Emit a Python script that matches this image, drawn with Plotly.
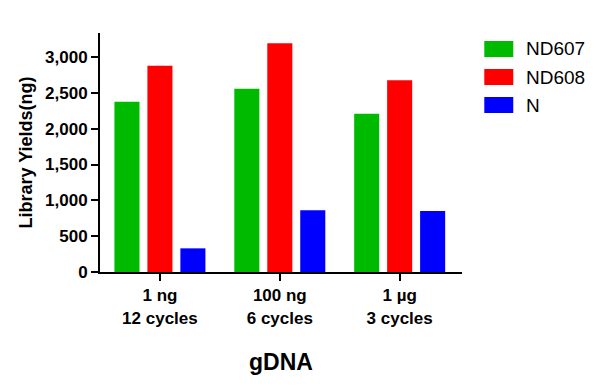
import plotly.graph_objects as go

categories = ["1 ng<br>12 cycles", "100 ng<br>6 cycles", "1 µg<br>3 cycles"]
series_names = ["ND607", "ND608", "N"]
nd607 = [2376, 2558, 2209]
nd608 = [2879, 3191, 2675]
n_vals = [330, 861, 851]
series_values = [nd607, nd608, n_vals]
colors = ["#00BA00", "#FF0000", "#0000FF"]
y_ticks = [0, 500, 1000, 1500, 2000, 2500, 3000]

# the page body adds an 8px offset; compensate in the margins
OFF = 8
W, H = 603, 390
L, T = 99.5 - OFF, 33 - OFF
R = W - (461.7 - OFF)
B = H - (272 - OFF)
PW, PH = W - L - R, H - T - B

fig = go.Figure()
for name, vals, col in zip(series_names, series_values, colors):
    fig.add_trace(go.Bar(x=categories, y=vals, name=name, marker=dict(color=col, line=dict(width=0)),
                         showlegend=False))

# custom legend (large swatches as in the reference)
shapes = []
annotations = []
for i, (name, col) in enumerate(zip(series_names, colors)):
    cy = 49 + 28 * i - OFF
    x0, x1 = 484 - OFF, 513 - OFF
    y0, y1 = cy - 8, cy + 8
    shapes.append(dict(type="rect", xref="paper", yref="paper",
                       x0=(x0 - L) / PW, x1=(x1 - L) / PW,
                       y0=(H - B - y1) / PH, y1=(H - B - y0) / PH,
                       fillcolor=col, line=dict(width=0)))
    annotations.append(dict(xref="paper", yref="paper", x=(524 - OFF - L) / PW, y=(H - B - cy) / PH,
                            text=name, showarrow=False, xanchor="left", yanchor="middle",
                            font=dict(family="Liberation Sans, Arial", size=19, color="black")))

fig.update_layout(
    width=W, height=H,
    margin=dict(l=L, r=R, t=T, b=B, pad=0, autoexpand=False),
    paper_bgcolor="white", plot_bgcolor="white",
    barmode="group", bargap=0.175, bargroupgap=0.24,
    shapes=shapes, annotations=annotations,
    font=dict(family="Liberation Sans, Arial", color="black"),
)
fig.update_xaxes(
    range=[-0.5, 2.52], showline=True, linecolor="black", linewidth=2, automargin=False,
    ticks="outside", ticklen=7, tickwidth=2, tickcolor="black",
    tickfont=dict(size=17, family="Liberation Sans, Arial", weight="bold"),
    title=dict(text="<b>gDNA</b>", font=dict(size=23), standoff=27),
    showgrid=False, zeroline=False,
)
fig.update_yaxes(
    range=[0, 3335], tickvals=y_ticks, tickformat=",", showline=True, linecolor="black", linewidth=2,
    automargin=False,
    ticks="outside", ticklen=7, tickwidth=2, tickcolor="black",
    tickfont=dict(size=17, family="Liberation Sans, Arial", weight="bold"),
    title=dict(text="<b>Library Yields(ng)</b>", font=dict(size=18), standoff=8),
    showgrid=False, zeroline=False,
)
fig.write_html("out.html")
